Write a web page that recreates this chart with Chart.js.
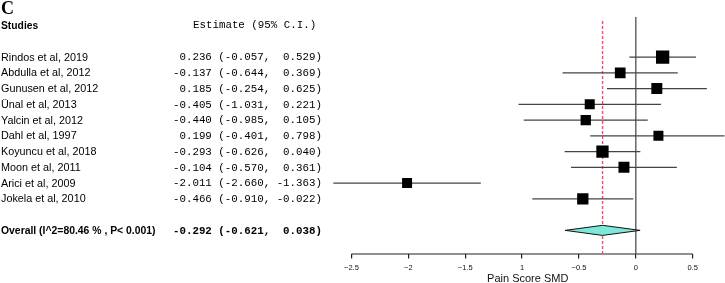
<!DOCTYPE html>
<html>
<head>
<meta charset="utf-8">
<script src="https://cdn.jsdelivr.net/npm/chart.js@4"></script>
<style>
  html, body { margin: 0; padding: 0; background: #fff; }
  canvas { display: block; }
</style>
</head>
<body>
<canvas id="forest" width="725" height="283"></canvas>
<script>
const studies = [
    'Rindos et al, 2019',
    'Abdulla et al, 2012',
    'Gunusen et al, 2012',
    'Ünal et al, 2013',
    'Yalcin et al, 2012',
    'Dahl et al, 1997',
    'Koyuncu et al, 2018',
    'Moon et al, 2011',
    'Arici et al, 2009',
    'Jokela et al, 2010'
];
const estimates = [0.236, -0.137, 0.185, -0.405, -0.440, 0.199, -0.293, -0.104, -2.011, -0.466];
const lower = [-0.057, -0.644, -0.254, -1.031, -0.985, -0.401, -0.626, -0.570, -2.660, -0.910];
const upper = [0.529, 0.369, 0.625, 0.221, 0.105, 0.798, 0.040, 0.361, -1.363, -0.022];
// relative study weights (%)
const weights = [14.5, 9.4, 9.9, 8.2, 8.7, 8.2, 12.4, 9.9, 8.2, 10.5];

const overallLabel = 'Overall (I^2=80.46 % , P< 0.001)';
const overallEst = -0.292;
const overallLower = -0.621;
const overallUpper = 0.038;

const tickValues = [-2.5, -2, -1.5, -1, -0.5, 0, 0.5];
const tickLabels = ['\u22122.5', '\u22122', '\u22121.5', '1', '\u22120.5', '0', '0.5'];
const xTitle = 'Pain Score SMD';

const SANS = '"Liberation Sans", Arial, Helvetica, sans-serif';
const MONO = '"Liberation Mono", "Courier New", monospace';
const SERIF = '"Liberation Serif", "Times New Roman", serif';

const overallRow = studies.length + 1;
const axisRow = 12.5;

function pad(v) {
    const s = v.toFixed(3);
    return v < 0 ? s : ' ' + s;
}

function ciText(est, lo, hi) {
    return `${pad(est)} (${pad(lo)}, ${pad(hi)})`;
}

// text columns on the left, placed on the chart's own y scale
const textColumns = {
    id: 'textColumns',
    afterDraw(chart) {
        const ctx = chart.ctx;
        const y = chart.scales.y;
        ctx.save();
        ctx.fillStyle = '#000';
        ctx.textBaseline = 'middle';

        ctx.font = 'bold 18px ' + SERIF;
        ctx.textAlign = 'left';
        ctx.fillText('C', 1, 9.5);

        ctx.font = 'bold 10.3px ' + SANS;
        ctx.fillText('Studies', 1, y.getPixelForValue(-2) + 1);
        ctx.font = '10.8px ' + MONO;
        ctx.fillText('Estimate (95% C.I.)', 193, y.getPixelForValue(-2));

        studies.forEach((name, i) => {
            const py = y.getPixelForValue(i) + 0.5;
            ctx.font = '10.8px ' + SANS;
            ctx.textAlign = 'left';
            ctx.fillText(name, 1, py);
            ctx.font = '10.8px ' + MONO;
            ctx.textAlign = 'right';
            ctx.fillText(ciText(estimates[i], lower[i], upper[i]), 322, py);
        });

        const oy = y.getPixelForValue(overallRow) + 0.5;
        ctx.font = 'bold 10.4px ' + SANS;
        ctx.textAlign = 'left';
        ctx.fillText(overallLabel, 1, oy);
        ctx.font = 'bold 10.8px ' + MONO;
        ctx.textAlign = 'right';
        ctx.fillText(ciText(overallEst, overallLower, overallUpper), 322, oy);
        ctx.restore();
    }
};

const ciSets = studies.map((s, i) => ({
    data: [{ x: lower[i], y: i }, { x: upper[i], y: i }],
    showLine: true,
    borderColor: '#444',
    borderWidth: 1.2,
    pointRadius: 0,
    order: 2
}));

const datasets = [
    {
        // study boxes
        data: estimates.map((e, i) => ({ x: e, y: i })),
        pointStyle: 'rect',
        pointRadius: weights.map(w => Math.sqrt(w) * 3.49 / Math.SQRT2),
        backgroundColor: '#000',
        borderWidth: 0,
        order: 0
    },
    {
        // pooled diamond
        data: [
            { x: overallLower, y: overallRow },
            { x: overallEst, y: overallRow - 0.32 },
            { x: overallUpper, y: overallRow },
            { x: overallEst, y: overallRow + 0.32 },
            { x: overallLower, y: overallRow }
        ],
        showLine: true,
        fill: 'shape',
        backgroundColor: '#7de8d8',
        borderColor: '#111',
        borderWidth: 1,
        pointRadius: 0,
        tension: 0,
        order: 1
    },
    ...ciSets,
    {
        // pooled estimate reference
        data: [{ x: overallEst, y: -2.29 }, { x: overallEst, y: axisRow }],
        showLine: true,
        borderColor: '#ff4468',
        borderWidth: 1.4,
        borderDash: [3, 2],
        pointRadius: 0,
        order: 3
    },
    {
        // line of no effect
        data: [{ x: 0, y: -2.54 }, { x: 0, y: axisRow }],
        showLine: true,
        borderColor: '#666',
        borderWidth: 1.5,
        pointRadius: 0,
        order: 4
    },
    {
        // x axis line, only over the tick range
        data: [{ x: tickValues[0], y: axisRow }, { x: tickValues[tickValues.length - 1], y: axisRow }],
        showLine: true,
        borderColor: '#222',
        borderWidth: 1.2,
        pointRadius: 0,
        clip: false,
        order: 5
    }
];

new Chart(document.getElementById('forest'), {
    type: 'scatter',
    data: { datasets: datasets },
    options: {
        responsive: false,
        animation: false,
        events: [],
        layout: { autoPadding: false, padding: { left: 331, right: 0.5, top: 0, bottom: 0 } },
        plugins: {
            legend: { display: false },
            tooltip: { enabled: false }
        },
        scales: {
            y: {
                type: 'linear',
                min: -3.62,
                max: axisRow,
                reverse: true,
                display: false
            },
            x: {
                type: 'linear',
                min: -2.68,
                max: 0.78,
                afterBuildTicks: s => { s.ticks = tickValues.map(v => ({ value: v })); },
                afterFit: s => { s.height = 29; s.paddingLeft = 0; s.paddingRight = 0; },
                border: { display: false },
                grid: {
                    display: true,
                    drawOnChartArea: false,
                    drawTicks: true,
                    tickLength: 4.5,
                    color: '#222',
                    lineWidth: 1.2
                },
                ticks: {
                    autoSkip: false,
                    maxRotation: 0,
                    padding: 4.5,
                    color: '#111',
                    font: { size: 7.5, family: SANS },
                    callback: v => tickLabels[tickValues.indexOf(v)]
                },
                title: {
                    display: true,
                    text: xTitle,
                    color: '#111',
                    font: { size: 11, family: SANS },
                    padding: { top: 0, bottom: -3 }
                }
            }
        }
    },
    plugins: [textColumns]
});
</script>
</body>
</html>
